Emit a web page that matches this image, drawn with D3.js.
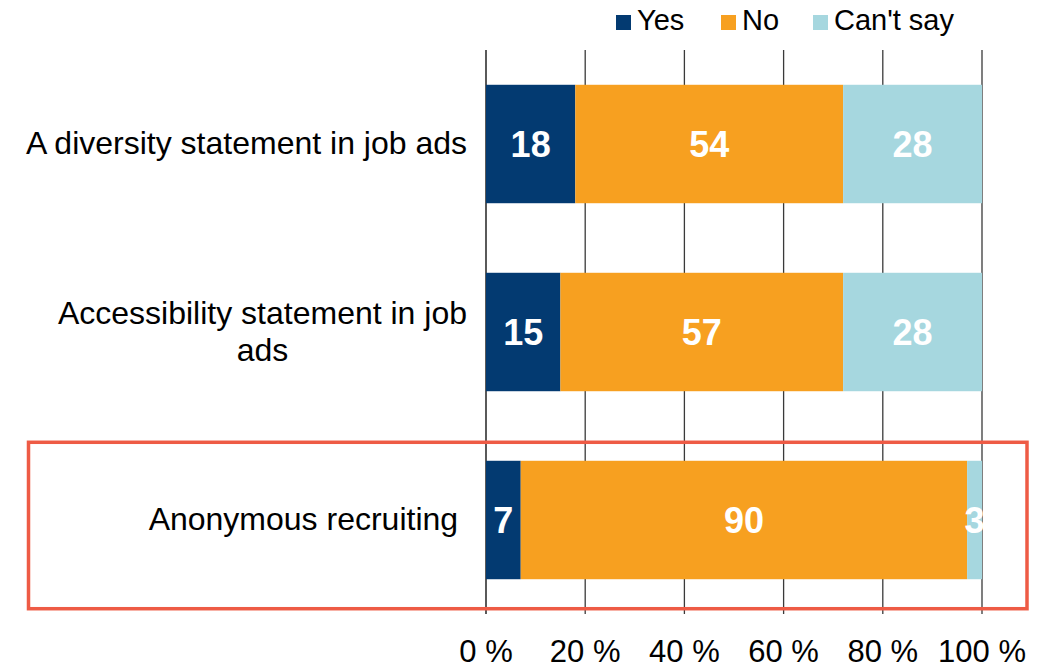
<!DOCTYPE html>
<html>
<head>
<meta charset="utf-8">
<script src="https://cdn.jsdelivr.net/npm/d3@7"></script>
<style>
  html, body { margin: 0; padding: 0; background: #fff; }
  svg { display: block; font-family: "Liberation Sans", Arial, sans-serif; }
</style>
</head>
<body>
<svg id="chart" width="1056" height="670"></svg>
<script>
// Survey answers per recruiting measure (percent of respondents)
const categories = [
  "A diversity statement in job ads",
  "Accessibility statement in job ads",
  "Anonymous recruiting "
];
const seriesNames = ["Yes", "No", "Can't say"];
const yesValues = [18, 15, 7];
const noValues = [54, 57, 90];
const cantSayValues = [28, 28, 3];
const tickValues = [0, 20, 40, 60, 80, 100];
const tickLabels = ["0 %", "20 %", "40 %", "60 %", "80 %", "100 %"];
const highlighted = "Anonymous recruiting ";

const colors = ["#033a71", "#f7a020", "#a6d7df"];

const svg = d3.select("#chart");
const margin = { top: 50, left: 486, right: 74, bottom: 56 };
const W = 1056, H = 670;

const x = d3.scaleLinear().domain([0, 100]).range([margin.left, W - margin.right]);
const y = d3.scaleBand().domain(categories)
  .range([margin.top, H - margin.bottom])
  .paddingInner(0.37).paddingOuter(0.185);

// Stack the three answer series
const rows = categories.map((c, i) => ({
  category: c, Yes: yesValues[i], No: noValues[i], "Can't say": cantSayValues[i]
}));
const stacked = d3.stack().keys(seriesNames)(rows);

// Vertical gridlines
svg.append("g").selectAll("line").data(tickValues).join("line")
  .attr("x1", d => x(d)).attr("x2", d => x(d))
  .attr("y1", margin.top).attr("y2", H - margin.bottom)
  .attr("stroke", (d, i) => i === 0 ? "#000" : "#3a3a3a")
  .attr("stroke-width", 1.3);

// Bars
const layers = svg.append("g").selectAll("g").data(stacked).join("g")
  .attr("fill", (d, i) => colors[i]);
layers.selectAll("rect").data(d => d).join("rect")
  .attr("x", d => x(d[0]))
  .attr("width", d => x(d[1]) - x(d[0]))
  .attr("y", d => y(d.data.category))
  .attr("height", y.bandwidth());

// Value labels inside bars
const labels = svg.append("g");
stacked.forEach(layer => {
  labels.selectAll(null).data(layer).join("text")
    .attr("x", d => (x(d[0]) + x(d[1])) / 2)
    .attr("y", d => y(d.data.category) + y.bandwidth() / 2)
    .attr("dy", "0.36em")
    .attr("text-anchor", "middle")
    .attr("fill", "#fff")
    .attr("font-weight", "bold")
    .attr("font-size", 36)
    .text(d => d[1] - d[0]);
});

// X axis tick labels
svg.append("g").selectAll("text").data(tickValues).join("text")
  .attr("x", d => x(d))
  .attr("y", 662)
  .attr("text-anchor", "middle")
  .attr("font-size", 31)
  .attr("fill", "#000")
  .text((d, i) => tickLabels[i]);

// Category labels, wrapped and centred as a block ending left of the axis
const labelRight = x(0) - 19;
const lineHeight = 37;
const catG = svg.append("g");
categories.forEach(cat => {
  const t = catG.append("text")
    .attr("font-size", 32)
    .attr("fill", "#000")
    .style("white-space", "pre")
    .attr("text-anchor", "middle");
  const words = cat.split(" ");
  const lines = [];
  let line = "";
  const probe = catG.append("text").attr("font-size", 32).style("white-space", "pre");
  words.forEach((w, i) => {
    const test = i === 0 ? w : line + " " + w;
    probe.text(test);
    if (probe.node().getComputedTextLength() > 445 && line !== "") {
      lines.push(line);
      line = w;
    } else {
      line = test;
    }
  });
  lines.push(line);
  const widths = lines.map(l => { probe.text(l); return probe.node().getComputedTextLength(); });
  probe.remove();
  const maxW = d3.max(widths);
  const cx = labelRight - maxW / 2;
  const cy = y(cat) + y.bandwidth() / 2;
  const firstBaseline = cy - (lines.length - 1) * lineHeight / 2 + 10;
  lines.forEach((l, i) => {
    t.append("tspan")
      .attr("x", cx)
      .attr("y", firstBaseline + i * lineHeight)
      .text(l);
  });
});

// Highlight frame around the anonymous recruiting row
const hy = y(highlighted);
svg.append("rect")
  .attr("x", 28.5)
  .attr("y", hy - 18.5)
  .attr("width", 1027 - 28.5)
  .attr("height", y.bandwidth() + 48)
  .attr("fill", "none")
  .attr("stroke", "#ee5b45")
  .attr("stroke-width", 3.5);

// Legend
const legendX = [616, 721, 813];
const legend = svg.append("g").selectAll("g").data(seriesNames).join("g")
  .attr("transform", (d, i) => `translate(${legendX[i]},0)`);
legend.append("rect")
  .attr("x", 0).attr("y", 15).attr("width", 15).attr("height", 15)
  .attr("fill", (d, i) => colors[i]);
legend.append("text")
  .attr("x", 21).attr("y", 30)
  .attr("font-size", 29)
  .attr("fill", "#000")
  .text(d => d);
</script>
</body>
</html>
